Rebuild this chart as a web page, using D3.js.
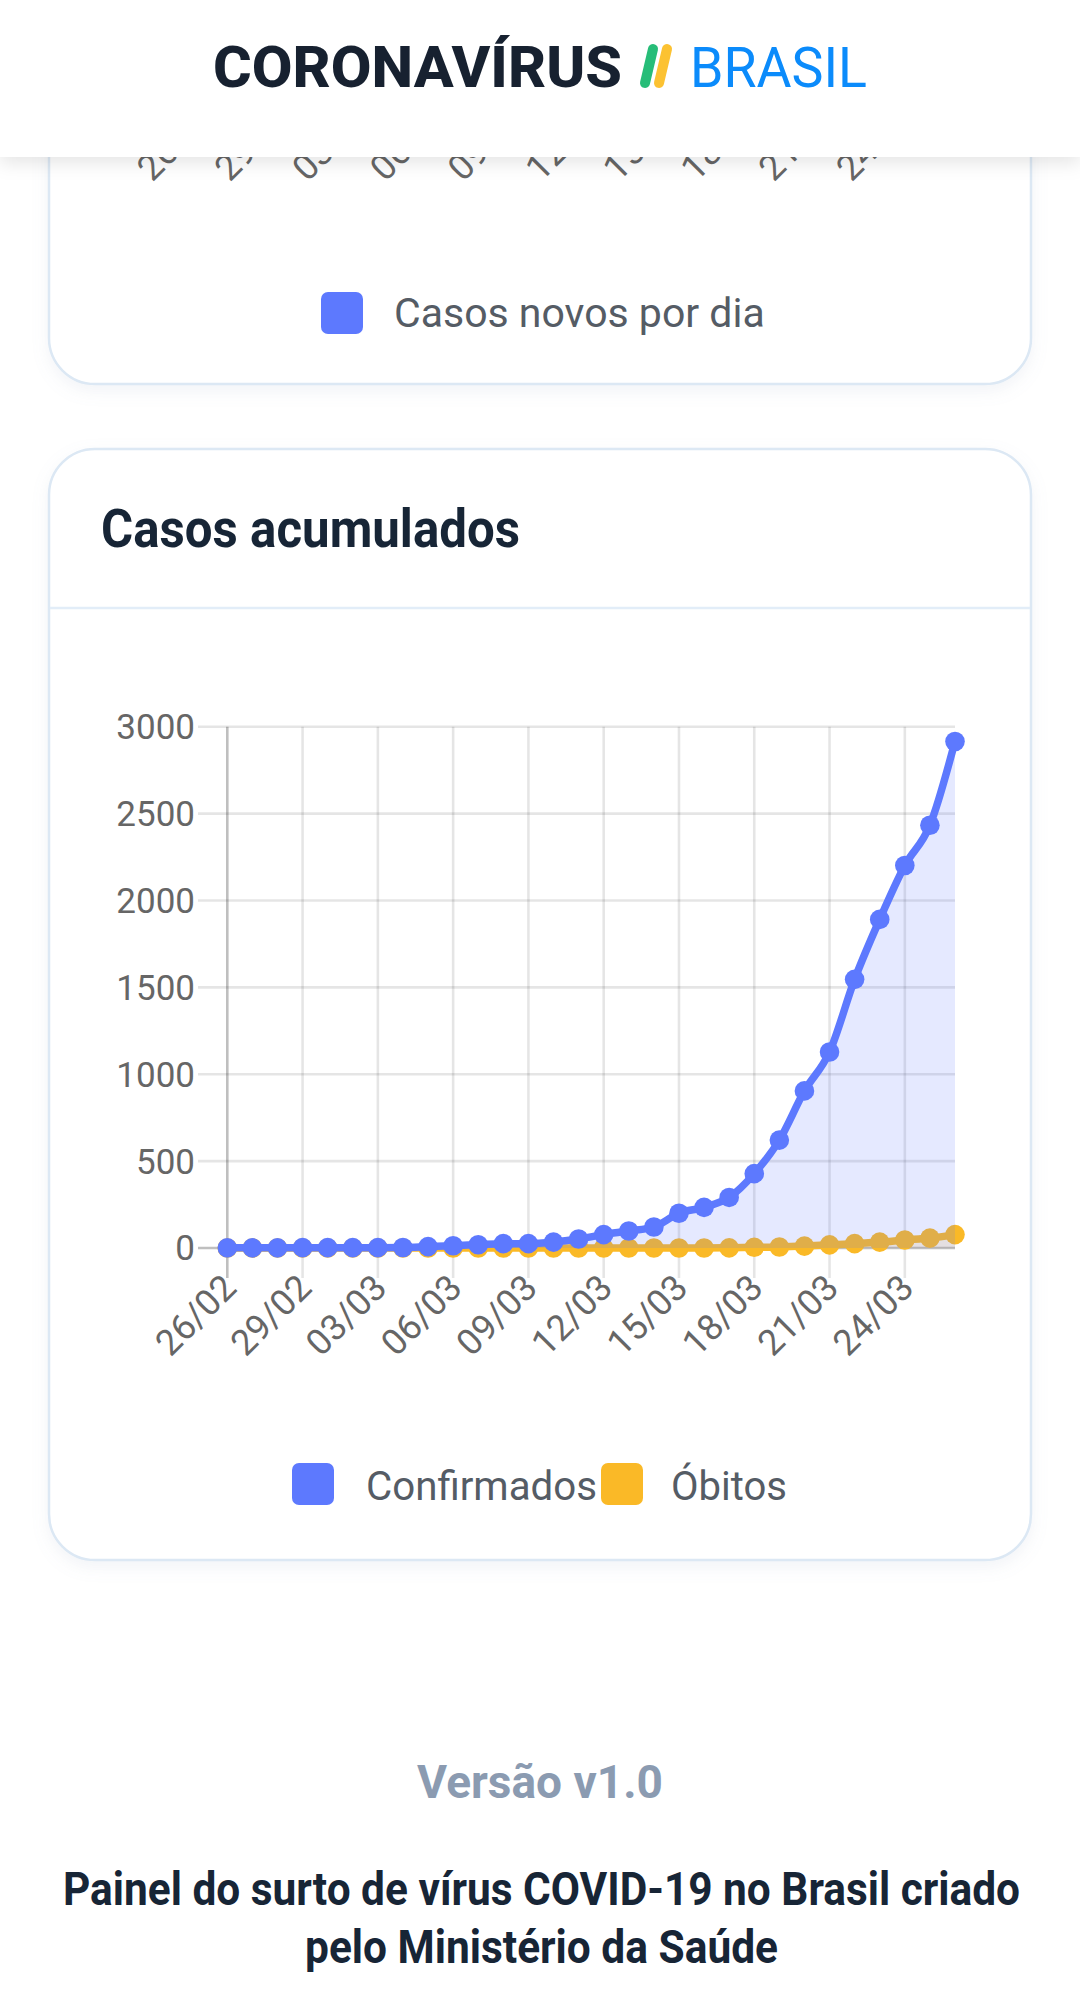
<!DOCTYPE html>
<html>
<head>
<meta charset="utf-8">
<script src="https://cdn.jsdelivr.net/npm/d3@7"></script>
<style>
  html, body { margin: 0; padding: 0; background: #ffffff; }
  svg { display: block; }
  text { font-family: Roboto, "Noto Sans", sans-serif; }
</style>
</head>
<body>
<svg id="page" width="1080" height="1995"></svg>
<script>
// ---------------- data ----------------
const dates = ["26/02","27/02","28/02","29/02","01/03","02/03","03/03","04/03","05/03","06/03",
               "07/03","08/03","09/03","10/03","11/03","12/03","13/03","14/03","15/03","16/03",
               "17/03","18/03","19/03","20/03","21/03","22/03","23/03","24/03","25/03","26/03"];
const confirmados = [1,1,1,2,2,2,2,3,8,13,19,25,25,34,52,77,98,121,200,234,
                     291,428,621,904,1128,1546,1891,2201,2433,2915];
const obitos = [0,0,0,0,0,0,0,0,0,0,0,0,0,0,0,0,0,0,0,0,
                1,4,6,11,18,25,34,46,57,77];
const yTicks = [0,500,1000,1500,2000,2500,3000];
const seriesNames = ["Confirmados","Óbitos"];
const seriesColors = ["#5d79fe","#fab927"];
const prevLegend = "Casos novos por dia";
const cardTitle = "Casos acumulados";
const versionText = "Versão v1.0";
const footerLines = ["Painel do surto de vírus COVID-19 no Brasil criado","pelo Ministério da Saúde"];

// ---------------- page ----------------
const svg = d3.select("#page");
const defs = svg.append("defs");
const sh = defs.append("filter").attr("id","cardShadow").attr("x","-10%").attr("y","-10%").attr("width","120%").attr("height","125%");
sh.append("feDropShadow").attr("dx",0).attr("dy",6).attr("stdDeviation",8).attr("flood-color","#8fa3bf").attr("flood-opacity",0.12);
const hs = defs.append("filter").attr("id","headShadow").attr("x","-5%").attr("y","-20%").attr("width","110%").attr("height","160%");
hs.append("feDropShadow").attr("dx",0).attr("dy",6).attr("stdDeviation",9).attr("flood-color","#000").attr("flood-opacity",0.10);

const cardStroke = "#dce8f4";

// previous card (scrolled, mostly hidden by header)
svg.append("rect").attr("x",49).attr("y",-300).attr("width",982).attr("height",684)
   .attr("rx",46).attr("fill","#fff").attr("stroke",cardStroke).attr("stroke-width",2.5)
   .attr("filter","url(#cardShadow)");

// rotated x labels helper
function xLabels(g, xs, labels, y0, fs) {
  g.selectAll("text.xl").data(labels).join("text")
    .attr("class","xl")
    .attr("transform", d => `translate(${xs(d)+2},${y0}) rotate(-45)`)
    .attr("text-anchor","end").attr("dy","0.35em")
    .attr("font-size",fs).attr("fill","#666")
    .text(d => d);
}
const shownLabels = dates.filter((d,i) => i % 3 === 0);

// previous chart's x-axis labels (band scale of a bar chart)
const xPrev = d3.scaleBand().domain(dates).range([196, 973]);
const gPrev = svg.append("g");
xLabels(gPrev, d => xPrev(d) + xPrev.bandwidth()/2, shownLabels, 106, 36);

// previous legend
svg.append("rect").attr("x",321).attr("y",292).attr("width",42).attr("height",42).attr("rx",7).attr("fill",seriesColors[0]);
svg.append("text").attr("x",394).attr("y",327).attr("font-size",41).attr("fill","#555c65").text(prevLegend);

// current card
svg.append("rect").attr("x",49).attr("y",449).attr("width",982).attr("height",1111)
   .attr("rx",46).attr("fill","#fff").attr("stroke",cardStroke).attr("stroke-width",2.5)
   .attr("filter","url(#cardShadow)");
svg.append("line").attr("x1",50).attr("x2",1030).attr("y1",608).attr("y2",608)
   .attr("stroke","#e2edf8").attr("stroke-width",2.5);
svg.append("text").attr("x",101).attr("y",546.5).attr("font-size",54).attr("font-weight",700)
   .attr("fill","#172536").attr("textLength",419).attr("lengthAdjust","spacingAndGlyphs").text(cardTitle);

// ---------------- chart ----------------
const x = d3.scalePoint().domain(dates).range([227.3, 955]);
const y = d3.scaleLinear().domain([0, 3000]).range([1248, 726.7]);
const ch = svg.append("g");

// horizontal grid (with left tick marks)
ch.selectAll("line.hg").data(yTicks).join("line").attr("class","hg")
  .attr("x1",198).attr("x2",955).attr("y1",d=>y(d)).attr("y2",d=>y(d))
  .attr("stroke", d => d === 0 ? "rgba(0,0,0,0.25)" : "rgba(0,0,0,0.1)").attr("stroke-width",2.6);
// vertical grid (with bottom tick marks)
ch.selectAll("line.vg").data(shownLabels).join("line").attr("class","vg")
  .attr("x1",d=>x(d)).attr("x2",d=>x(d)).attr("y1",y(3000)).attr("y2",1278)
  .attr("stroke", (d,i) => i === 0 ? "rgba(0,0,0,0.25)" : "rgba(0,0,0,0.1)").attr("stroke-width",2.6);

// y labels
ch.selectAll("text.yl").data(yTicks).join("text").attr("class","yl")
  .attr("x",195).attr("y",d=>y(d)).attr("dy","0.355em").attr("text-anchor","end")
  .attr("font-size",35).attr("fill","#666").text(d=>d);

// x labels
xLabels(ch, x, shownLabels, 1281, 36);

// series (drawn in reverse order: Óbitos below Confirmados)
const seriesData = [confirmados, obitos];
const curve = d3.curveMonotoneX;
[1,0].forEach(k => {
  const vals = seriesData[k];
  const area = d3.area().x((d,i)=>x(dates[i])).y0(y(0)).y1(d=>y(d)).curve(curve);
  const line = d3.line().x((d,i)=>x(dates[i])).y(d=>y(d)).curve(curve);
  ch.append("path").datum(vals).attr("d",area)
    .attr("fill",seriesColors[k]).attr("fill-opacity",0.16);
  ch.append("path").datum(vals).attr("d",line)
    .attr("fill","none").attr("stroke",seriesColors[k]).attr("stroke-width",7.5).attr("stroke-linejoin","round");
  ch.selectAll("circle.s"+k).data(vals).join("circle").attr("class","s"+k)
    .attr("cx",(d,i)=>x(dates[i])).attr("cy",d=>y(d)).attr("r",9.8).attr("fill",seriesColors[k]);
});

// legend (boxes first, texts on top)
const legendItems = [{box:292, tx:366, w:231}, {box:601, tx:671, w:116}];
legendItems.forEach((it,k) => {
  svg.append("rect").attr("x",it.box).attr("y",1463).attr("width",42).attr("height",42).attr("rx",7).attr("fill",seriesColors[k]);
});
legendItems.forEach((it,k) => {
  svg.append("text").attr("x",it.tx).attr("y",1500).attr("font-size",41).attr("fill","#555c65")
     .attr("textLength",it.w).attr("lengthAdjust","spacingAndGlyphs").text(seriesNames[k]);
});

// ---------------- footer ----------------
svg.append("text").attr("x",540).attr("y",1798).attr("text-anchor","middle").attr("font-size",46)
   .attr("font-weight",700).attr("fill","#8b9bb1").text(versionText);
svg.append("text").attr("x",63).attr("y",1905).attr("font-size",47).attr("font-weight",700)
   .attr("fill","#172536").attr("textLength",957).attr("lengthAdjust","spacingAndGlyphs").text(footerLines[0]);
svg.append("text").attr("x",305).attr("y",1963).attr("font-size",47).attr("font-weight",700)
   .attr("fill","#172536").attr("textLength",473).attr("lengthAdjust","spacingAndGlyphs").text(footerLines[1]);

// ---------------- header (fixed, on top) ----------------
svg.append("rect").attr("x",0).attr("y",-20).attr("width",1080).attr("height",177)
   .attr("fill","#fff").attr("filter","url(#headShadow)");
svg.append("text").attr("x",213).attr("y",86.7).attr("font-family","Inter, 'DejaVu Sans', sans-serif")
   .attr("font-size",57).attr("font-weight",800).attr("fill","#172130")
   .attr("textLength",409).attr("lengthAdjust","spacingAndGlyphs").text("CORONAVÍRUS");
svg.append("line").attr("x1",645).attr("y1",83).attr("x2",653).attr("y2",49)
   .attr("stroke","#27bd78").attr("stroke-width",10).attr("stroke-linecap","round");
svg.append("line").attr("x1",659).attr("y1",83).attr("x2",667).attr("y2",49)
   .attr("stroke","#fcc232").attr("stroke-width",10).attr("stroke-linecap","round");
svg.append("text").attr("x",690).attr("y",86.5).attr("font-family","Inter, 'Noto Sans', sans-serif")
   .attr("font-size",55).attr("font-weight",400).attr("fill","#0b8bfb")
   .attr("textLength",177).attr("lengthAdjust","spacingAndGlyphs").text("BRASIL");
</script>
</body>
</html>
